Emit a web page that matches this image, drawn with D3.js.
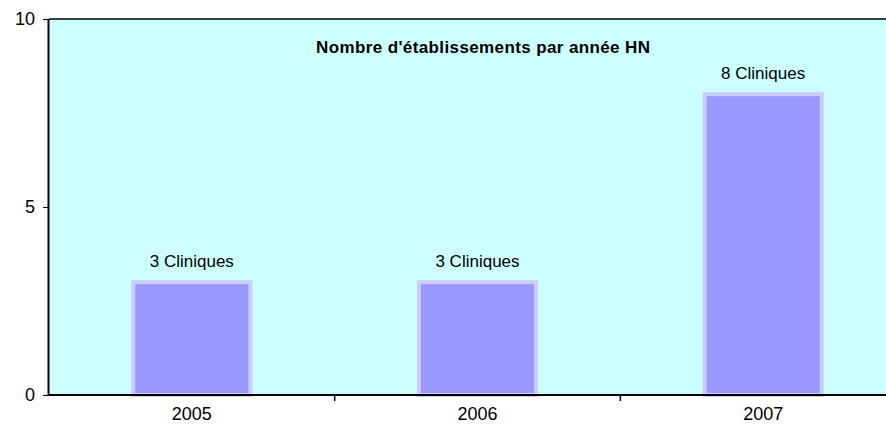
<!DOCTYPE html>
<html>
<head>
<meta charset="utf-8">
<script src="https://cdn.jsdelivr.net/npm/d3@7"></script>
<style>
  body { margin: 0; background: #fff; }
  text { font-family: "Liberation Sans", Arial, sans-serif; }
</style>
</head>
<body>
<div id="chart"></div>
<script>
const years = ["2005", "2006", "2007"];
const counts = [3, 3, 8];
const labels = ["3 Cliniques", "3 Cliniques", "8 Cliniques"];
const yTicks = [0, 5, 10];
const title = "Nombre d'établissements par année HN";

const W = 886, H = 432;
const margin = {top: 19, right: -20, bottom: 37, left: 49};
const width = W - margin.left - margin.right, height = H - margin.top - margin.bottom;

const svg = d3.select("#chart").append("svg")
  .attr("width", W).attr("height", H);

const g = svg.append("g").attr("transform", `translate(${margin.left},${margin.top})`);

const x = d3.scaleBand().domain(years).range([0, width]).paddingInner(0.59).paddingOuter(0.295);
const xb = d3.scaleBand().domain(years).range([0, width]);
const y = d3.scaleLinear().domain([0, 10]).range([height, 0]);

g.append("rect").attr("width", width).attr("height", height).attr("fill", "#ccffff");

g.selectAll(".bar").data(counts).join("rect")
  .attr("class", "bar")
  .attr("x", (d, i) => x(years[i]))
  .attr("y", d => y(d))
  .attr("width", x.bandwidth())
  .attr("height", d => y(0) - y(d))
  .attr("fill", "#9999ff")
  .attr("stroke", "#ccccff")
  .attr("stroke-width", 4);

g.selectAll(".lbl").data(labels).join("text")
  .attr("class", "lbl")
  .attr("x", (d, i) => x(years[i]) + x.bandwidth() / 2)
  .attr("y", (d, i) => y(counts[i]) - 15)
  .attr("text-anchor", "middle")
  .attr("font-size", 17)
  .text(d => d);

// top border
g.append("line").attr("x1", 0).attr("x2", width).attr("y1", 0).attr("y2", 0)
  .attr("stroke", "#000").attr("stroke-width", 1.5);

const yAxis = g.append("g")
  .call(d3.axisLeft(y).tickValues(yTicks).tickSize(6).tickPadding(8));
yAxis.select(".domain").attr("stroke-width", 2).attr("d", `M-0.5,0V${height}`);
yAxis.selectAll("text").attr("font-size", 18).attr("fill", "#000");

const xAxis = g.append("g").attr("transform", `translate(0,${height})`);
xAxis.append("line").attr("x1", 0).attr("x2", width).attr("stroke", "#000").attr("stroke-width", 2);
xAxis.selectAll(".tk").data(years.slice(1)).join("line")
  .attr("class", "tk")
  .attr("x1", d => xb(d)).attr("x2", d => xb(d))
  .attr("y1", 0).attr("y2", 6).attr("stroke", "#000").attr("stroke-width", 1.5);
xAxis.selectAll(".yl").data(years).join("text")
  .attr("class", "yl")
  .attr("x", d => xb(d) + xb.bandwidth() / 2)
  .attr("y", 25)
  .attr("text-anchor", "middle")
  .attr("font-size", 18)
  .text(d => d);

g.append("text")
  .attr("x", 434).attr("y", 34)
  .attr("text-anchor", "middle")
  .attr("font-size", 17).attr("font-weight", "bold")
  .attr("textLength", 334).attr("lengthAdjust", "spacing")
  .text(title);
</script>
</body>
</html>
